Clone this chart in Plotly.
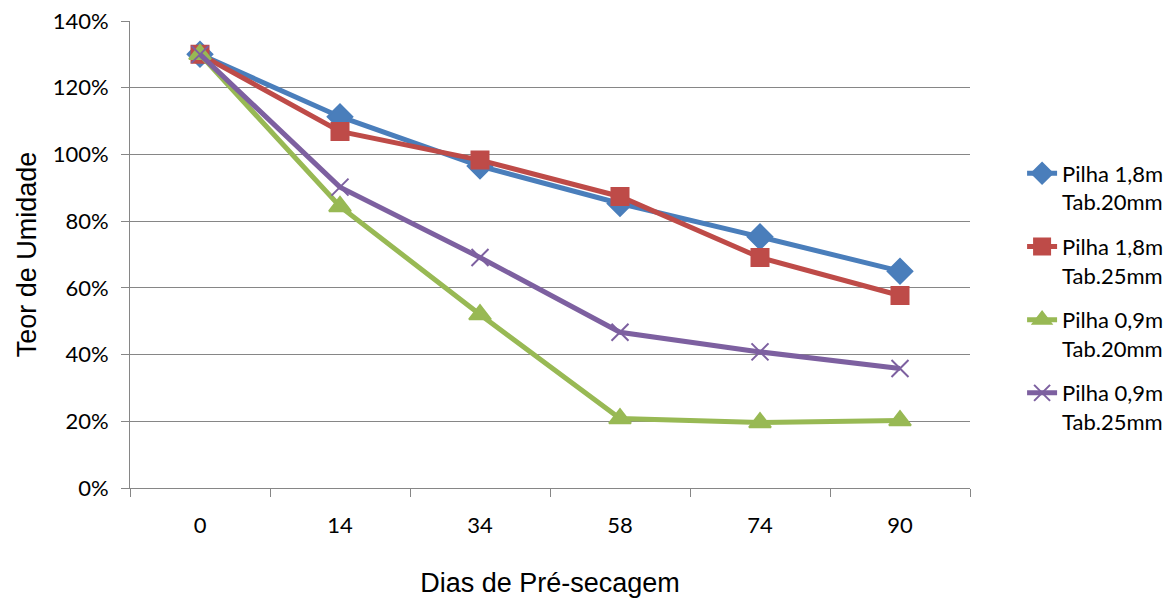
import plotly.graph_objects as go

dias = ["0", "14", "34", "58", "74", "90"]
pilha18_tab20 = [130, 111.3, 96.5, 85.3, 75.3, 65.0]
pilha18_tab25 = [130, 106.9, 98.3, 87.4, 69.1, 57.7]
pilha09_tab20 = [130, 84.4, 52.0, 20.8, 19.6, 20.2]
pilha09_tab25 = [130, 90.2, 69.1, 46.7, 40.8, 35.8]

series = [
    ("Pilha 1,8m<br>Tab.20mm", pilha18_tab20, "#4A7EBB", "diamond", 19),
    ("Pilha 1,8m<br>Tab.25mm", pilha18_tab25, "#BE4B48", "square", 17),
    ("Pilha 0,9m<br>Tab.20mm", pilha09_tab20, "#98B954", "triangle-up", 19),
    ("Pilha 0,9m<br>Tab.25mm", pilha09_tab25, "#7D60A0", "x-thin-open", 17),
]

fig = go.Figure()
for i, (name, vals, color, sym, size) in enumerate(series):
    fig.add_trace(go.Scatter(
        x=dias, y=[v / 100 for v in vals], name=name, mode="lines+markers",
        legendgroup=f"g{i}",
        line=dict(color=color, width=5),
        marker=dict(symbol=sym, size=size, color=color,
                    line=dict(color=color, width=2)),
    ))

fig.update_layout(
    width=1175, height=599,
    margin=dict(l=130, r=205, t=21, b=111, autoexpand=False),
    plot_bgcolor="white", paper_bgcolor="white",
    font=dict(family="Lato, Open Sans, sans-serif", size=22, color="#000000"),
    showlegend=True,
    legend=dict(x=1.062, y=0.408, yanchor="middle", xanchor="left", valign="top",
                font=dict(size=22, family="Lato, sans-serif"),
                tracegroupgap=13, bgcolor="rgba(0,0,0,0)"),
    xaxis=dict(
        type="category", range=[-0.5, 5.5], automargin=False,
        showgrid=False, showline=True, linecolor="#868686", linewidth=1,
        ticks="outside", tickson="boundaries", ticklen=8, tickcolor="#868686",
        tickfont=dict(size=22), ticklabelstandoff=18,
        title=dict(text="Dias de Pré-secagem", standoff=35,
                   font=dict(family="Liberation Sans, Arial", size=27)),
    ),
    yaxis=dict(
        range=[0, 1.4], dtick=0.2, tickformat=".0%", automargin=False,
        showgrid=True, gridcolor="#868686", gridwidth=1,
        showline=True, linecolor="#868686", linewidth=1,
        ticks="outside", ticklen=8, tickcolor="#868686",
        tickfont=dict(size=22), zeroline=False, ticklabelstandoff=8,
        title=dict(text="Teor de Umidade", standoff=8,
                   font=dict(family="Liberation Sans, Arial", size=27)),
    ),
)

fig.write_html("out.html")
